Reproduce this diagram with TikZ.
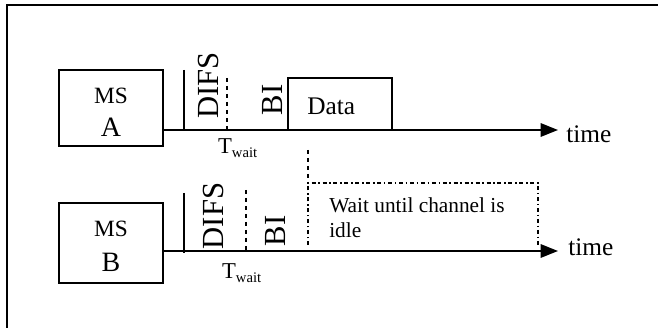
\documentclass[tikz,border=0pt]{standalone}
\usepackage{fontspec}
\setmainfont{Liberation Serif}
\usetikzlibrary{arrows.meta}
\tikzset{
  slot/.style={inner sep=0, rotate=90, font=\fontsize{23}{23}\selectfont},
  axis/.style={line width=1.6, -{Triangle[length=13, width=10]}},
  lbl/.style={inner sep=0, font=\fontsize{19}{19}\selectfont},
  msname/.style={inner sep=0, font=\fontsize{17.5}{17.5}\selectfont},
  msletter/.style={inner sep=0, font=\fontsize{21}{21}\selectfont},
  twait/.style={inner sep=0, font=\fontsize{17}{17}\selectfont}
}
\begin{document}
\begin{tikzpicture}[x=0.75pt, y=-0.75pt]
	%%%%% FRAME %%%%%
	\useasboundingbox (0,0) rectangle (658,328);
	\draw[line width=1.8] (7,329) -- (7,5) -- (659,5);
	
	%%%%% MS A %%%%%
	\draw[line width=1.5] (59,70) rectangle (163,146);
	\node[msname] (msA) at (111,96) {MS};
	\node[msletter] (nameA) at (111,127) {A};
	\coordinate (startA) at (163,130);
	\coordinate (endA) at (558,130);
	\draw[axis] (startA) -- (endA);
	\node[lbl, anchor=west] (timeA) at (566,134) {time};
	
	\draw[line width=1.5] (184,70) -- (184,130);
	\draw[line width=1.2, dashed] (227,78) -- (227,130);
	\node[slot] (difsA) at (208.5,85.5) {DIFS};
	\node[slot] (biA) at (272.5,100) {BI};
	\node[twait] (twaitA) at (238,148) {T\textsubscript{\fontsize{11}{11}\selectfont wait}};
	
	\draw[line width=1.5] (288,130) -- (288,78) -- (392,78) -- (392,130);
	\node[lbl, anchor=west] (dataA) at (307,106) {Data};
	
	%%%%% MS B %%%%%
	\draw[line width=1.5] (59,203) rectangle (163,283);
	\node[msname] (msB) at (111,229) {MS};
	\node[msletter] (nameB) at (111,262) {B};
	\coordinate (startB) at (163,251);
	\coordinate (endB) at (558,251);
	\draw[axis] (startB) -- (endB);
	\node[lbl, anchor=west] (timeB) at (568,247) {time};
	
	\draw[line width=1.5] (184,193) -- (184,253);
	\draw[line width=1.2, dashed] (246,190) -- (246,251);
	\node[slot] (difsB) at (213.5,216) {DIFS};
	\node[slot] (biB) at (276,231) {BI};
	\node[twait] (twaitB) at (242,273) {T\textsubscript{\fontsize{11}{11}\selectfont wait}};
	
	%%%%% WAIT %%%%%
	\draw[line width=1.2, dashed] (308,150) -- (308,183);
	\draw[line width=1.2, dash dot] (308,245) -- (308,183) -- (538,183) -- (538,247);
	\node[inner sep=0, anchor=base west, align=left, font=\fontsize{16}{18.75}\selectfont] (waitB) at (329,238) {Wait until channel is\\idle};
\end{tikzpicture}
\end{document}
